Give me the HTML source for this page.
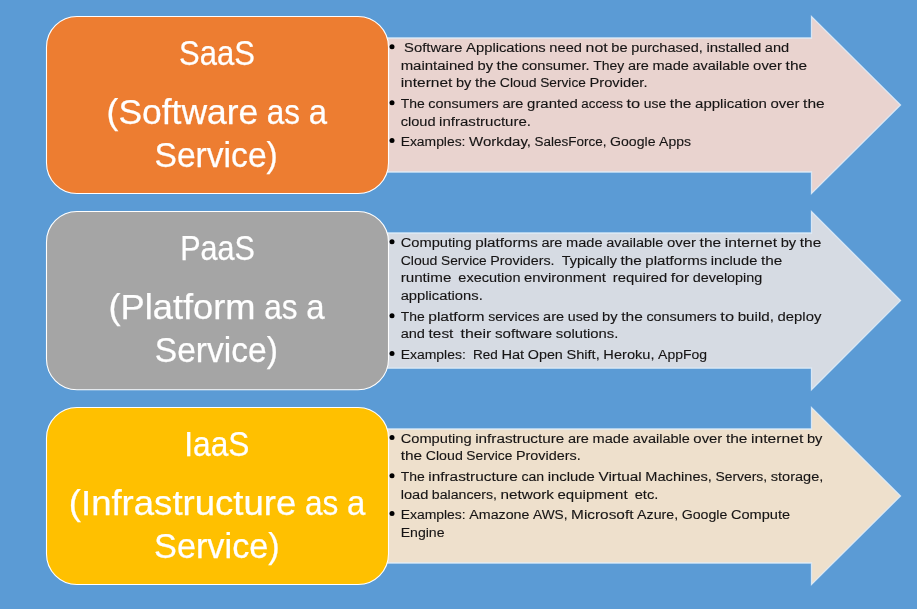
<!DOCTYPE html>
<html><head><meta charset="utf-8"><style>
html,body{margin:0;padding:0;width:917px;height:609px;overflow:hidden;background:#5B9BD5;}
svg{display:block;will-change:transform;}
text{font-family:"Liberation Sans",sans-serif;}
</style></head><body>
<svg width="917" height="609" viewBox="0 0 917 609">
<rect x="0" y="0" width="917" height="609" fill="#5B9BD5"/>
<path d="M300 38.0 H811.5 V16.5 L900.5 105.0 L811.5 193.5 V172.0 H300 Z" fill="#E9D3CF" stroke="#E2EEFA" stroke-opacity="0.85" stroke-width="1.3"/>
<rect x="46.5" y="16.5" width="342.0" height="177" rx="30.5" ry="30.5" fill="#ED7D31" stroke="#FFFFFF" stroke-width="1.1"/>
<path d="M300 233.0 H811.5 V211.5 L900.5 300.6 L811.5 389.7 V368.2 H300 Z" fill="#D6DBE3" stroke="#E2EEFA" stroke-opacity="0.85" stroke-width="1.3"/>
<rect x="46.5" y="211.5" width="342.0" height="178.2" rx="30.5" ry="30.5" fill="#A5A5A5" stroke="#FFFFFF" stroke-width="1.1"/>
<path d="M300 429.0 H811.5 V407.5 L900.5 496.0 L811.5 584.5 V563.0 H300 Z" fill="#EEE0CC" stroke="#E2EEFA" stroke-opacity="0.85" stroke-width="1.3"/>
<rect x="46.5" y="407.5" width="342.0" height="177" rx="30.5" ry="30.5" fill="#FFC000" stroke="#FFFFFF" stroke-width="1.1"/>
<g font-size="35" fill="#FFFFFF" stroke="#FFFFFF" stroke-width="0.25"><text x="179.10" y="64.60" textLength="75.80" lengthAdjust="spacingAndGlyphs">SaaS</text></g>
<g font-size="35" fill="#FFFFFF" stroke="#FFFFFF" stroke-width="0.25"><text x="106.60" y="123.50" textLength="151.61" lengthAdjust="spacingAndGlyphs">(Software</text><text x="266.85" y="123.50" textLength="33.23" lengthAdjust="spacingAndGlyphs">as</text><text x="308.71" y="123.50" textLength="18.29" lengthAdjust="spacingAndGlyphs">a</text></g>
<g font-size="35" fill="#FFFFFF" stroke="#FFFFFF" stroke-width="0.25"><text x="154.50" y="166.50" textLength="123.30" lengthAdjust="spacingAndGlyphs">Service)</text></g>
<g font-size="35" fill="#FFFFFF" stroke="#FFFFFF" stroke-width="0.25"><text x="180.20" y="260.20" textLength="74.70" lengthAdjust="spacingAndGlyphs">PaaS</text></g>
<g font-size="35" fill="#FFFFFF" stroke="#FFFFFF" stroke-width="0.25"><text x="108.40" y="319.10" textLength="147.14" lengthAdjust="spacingAndGlyphs">(Platform</text><text x="264.19" y="319.10" textLength="33.31" lengthAdjust="spacingAndGlyphs">as</text><text x="306.16" y="319.10" textLength="18.34" lengthAdjust="spacingAndGlyphs">a</text></g>
<g font-size="35" fill="#FFFFFF" stroke="#FFFFFF" stroke-width="0.25"><text x="154.80" y="362.20" textLength="123.10" lengthAdjust="spacingAndGlyphs">Service)</text></g>
<g font-size="35" fill="#FFFFFF" stroke="#FFFFFF" stroke-width="0.25"><text x="184.30" y="456.00" textLength="65.20" lengthAdjust="spacingAndGlyphs">IaaS</text></g>
<g font-size="35" fill="#FFFFFF" stroke="#FFFFFF" stroke-width="0.25"><text x="68.80" y="515.00" textLength="227.53" lengthAdjust="spacingAndGlyphs">(Infrastructure</text><text x="304.99" y="515.00" textLength="33.31" lengthAdjust="spacingAndGlyphs">as</text><text x="346.96" y="515.00" textLength="18.34" lengthAdjust="spacingAndGlyphs">a</text></g>
<g font-size="35" fill="#FFFFFF" stroke="#FFFFFF" stroke-width="0.25"><text x="154.00" y="557.80" textLength="125.80" lengthAdjust="spacingAndGlyphs">Service)</text></g>
<circle cx="392.0" cy="46.80" r="2.5" fill="#000"/>
<g font-size="13.7" fill="#161414" stroke="#161414" stroke-width="0.12"><text x="404.05" y="52.10" textLength="58.45" lengthAdjust="spacingAndGlyphs">Software</text><text x="466.10" y="52.10" textLength="79.67" lengthAdjust="spacingAndGlyphs">Applications</text><text x="549.38" y="52.10" textLength="32.61" lengthAdjust="spacingAndGlyphs">need</text><text x="585.59" y="52.10" textLength="22.12" lengthAdjust="spacingAndGlyphs">not</text><text x="611.32" y="52.10" textLength="16.31" lengthAdjust="spacingAndGlyphs">be</text><text x="631.23" y="52.10" textLength="71.57" lengthAdjust="spacingAndGlyphs">purchased,</text><text x="706.40" y="52.10" textLength="54.86" lengthAdjust="spacingAndGlyphs">installed</text><text x="764.87" y="52.10" textLength="24.38" lengthAdjust="spacingAndGlyphs">and</text></g>
<g font-size="13.7" fill="#161414" stroke="#161414" stroke-width="0.12"><text x="400.65" y="69.70" textLength="73.27" lengthAdjust="spacingAndGlyphs">maintained</text><text x="477.50" y="69.70" textLength="15.50" lengthAdjust="spacingAndGlyphs">by</text><text x="496.58" y="69.70" textLength="21.51" lengthAdjust="spacingAndGlyphs">the</text><text x="521.68" y="69.70" textLength="67.96" lengthAdjust="spacingAndGlyphs">consumer.</text><text x="593.22" y="69.70" textLength="31.10" lengthAdjust="spacingAndGlyphs">They</text><text x="627.90" y="69.70" textLength="21.00" lengthAdjust="spacingAndGlyphs">are</text><text x="652.48" y="69.70" textLength="36.45" lengthAdjust="spacingAndGlyphs">made</text><text x="692.51" y="69.70" textLength="57.04" lengthAdjust="spacingAndGlyphs">available</text><text x="753.14" y="69.70" textLength="28.92" lengthAdjust="spacingAndGlyphs">over</text><text x="785.64" y="69.70" textLength="21.51" lengthAdjust="spacingAndGlyphs">the</text></g>
<g font-size="13.7" fill="#161414" stroke="#161414" stroke-width="0.12"><text x="400.65" y="86.70" textLength="51.78" lengthAdjust="spacingAndGlyphs">internet</text><text x="455.98" y="86.70" textLength="15.37" lengthAdjust="spacingAndGlyphs">by</text><text x="474.91" y="86.70" textLength="21.35" lengthAdjust="spacingAndGlyphs">the</text><text x="499.81" y="86.70" textLength="36.80" lengthAdjust="spacingAndGlyphs">Cloud</text><text x="540.17" y="86.70" textLength="45.70" lengthAdjust="spacingAndGlyphs">Service</text><text x="589.42" y="86.70" textLength="58.13" lengthAdjust="spacingAndGlyphs">Provider.</text></g>
<circle cx="392.0" cy="102.70" r="2.5" fill="#000"/>
<g font-size="13.7" fill="#161414" stroke="#161414" stroke-width="0.12"><text x="400.65" y="108.00" textLength="24.05" lengthAdjust="spacingAndGlyphs">The</text><text x="428.30" y="108.00" textLength="70.51" lengthAdjust="spacingAndGlyphs">consumers</text><text x="502.40" y="108.00" textLength="21.10" lengthAdjust="spacingAndGlyphs">are</text><text x="527.10" y="108.00" textLength="50.66" lengthAdjust="spacingAndGlyphs">granted</text><text x="581.36" y="108.00" textLength="41.47" lengthAdjust="spacingAndGlyphs">access</text><text x="626.43" y="108.00" textLength="13.73" lengthAdjust="spacingAndGlyphs">to</text><text x="643.76" y="108.00" textLength="22.52" lengthAdjust="spacingAndGlyphs">use</text><text x="669.87" y="108.00" textLength="21.62" lengthAdjust="spacingAndGlyphs">the</text><text x="695.09" y="108.00" textLength="71.77" lengthAdjust="spacingAndGlyphs">application</text><text x="770.47" y="108.00" textLength="29.06" lengthAdjust="spacingAndGlyphs">over</text><text x="803.13" y="108.00" textLength="21.62" lengthAdjust="spacingAndGlyphs">the</text></g>
<g font-size="13.7" fill="#161414" stroke="#161414" stroke-width="0.12"><text x="400.65" y="125.80" textLength="34.93" lengthAdjust="spacingAndGlyphs">cloud</text><text x="439.12" y="125.80" textLength="91.93" lengthAdjust="spacingAndGlyphs">infrastructure.</text></g>
<circle cx="392.0" cy="140.40" r="2.5" fill="#000"/>
<g font-size="13.7" fill="#161414" stroke="#161414" stroke-width="0.12"><text x="400.65" y="145.70" textLength="64.82" lengthAdjust="spacingAndGlyphs">Examples:</text><text x="469.04" y="145.70" textLength="61.93" lengthAdjust="spacingAndGlyphs">Workday,</text><text x="534.53" y="145.70" textLength="71.95" lengthAdjust="spacingAndGlyphs">SalesForce,</text><text x="610.05" y="145.70" textLength="45.47" lengthAdjust="spacingAndGlyphs">Google</text><text x="659.08" y="145.70" textLength="31.87" lengthAdjust="spacingAndGlyphs">Apps</text></g>
<circle cx="392.0" cy="241.80" r="2.5" fill="#000"/>
<g font-size="13.7" fill="#161414" stroke="#161414" stroke-width="0.12"><text x="400.65" y="247.10" textLength="71.02" lengthAdjust="spacingAndGlyphs">Computing</text><text x="475.26" y="247.10" textLength="62.59" lengthAdjust="spacingAndGlyphs">platforms</text><text x="541.43" y="247.10" textLength="21.05" lengthAdjust="spacingAndGlyphs">are</text><text x="566.08" y="247.10" textLength="36.55" lengthAdjust="spacingAndGlyphs">made</text><text x="606.21" y="247.10" textLength="57.19" lengthAdjust="spacingAndGlyphs">available</text><text x="666.99" y="247.10" textLength="28.99" lengthAdjust="spacingAndGlyphs">over</text><text x="699.58" y="247.10" textLength="21.57" lengthAdjust="spacingAndGlyphs">the</text><text x="724.74" y="247.10" textLength="52.32" lengthAdjust="spacingAndGlyphs">internet</text><text x="780.65" y="247.10" textLength="15.54" lengthAdjust="spacingAndGlyphs">by</text><text x="799.78" y="247.10" textLength="21.57" lengthAdjust="spacingAndGlyphs">the</text></g>
<g font-size="13.7" fill="#161414" stroke="#161414" stroke-width="0.12"><text x="400.65" y="264.70" textLength="36.81" lengthAdjust="spacingAndGlyphs">Cloud</text><text x="441.02" y="264.70" textLength="45.72" lengthAdjust="spacingAndGlyphs">Service</text><text x="490.29" y="264.70" textLength="64.30" lengthAdjust="spacingAndGlyphs">Providers.</text><text x="561.71" y="264.70" textLength="55.17" lengthAdjust="spacingAndGlyphs">Typically</text><text x="620.43" y="264.70" textLength="21.35" lengthAdjust="spacingAndGlyphs">the</text><text x="645.34" y="264.70" textLength="61.96" lengthAdjust="spacingAndGlyphs">platforms</text><text x="710.86" y="264.70" textLength="46.48" lengthAdjust="spacingAndGlyphs">include</text><text x="760.90" y="264.70" textLength="21.35" lengthAdjust="spacingAndGlyphs">the</text></g>
<g font-size="13.7" fill="#161414" stroke="#161414" stroke-width="0.12"><text x="400.65" y="281.70" textLength="50.70" lengthAdjust="spacingAndGlyphs">runtime</text><text x="458.38" y="281.70" textLength="62.11" lengthAdjust="spacingAndGlyphs">execution</text><text x="524.01" y="281.70" textLength="81.84" lengthAdjust="spacingAndGlyphs">environment</text><text x="612.88" y="281.70" textLength="54.40" lengthAdjust="spacingAndGlyphs">required</text><text x="670.79" y="281.70" textLength="18.37" lengthAdjust="spacingAndGlyphs">for</text><text x="692.68" y="281.70" textLength="69.67" lengthAdjust="spacingAndGlyphs">developing</text></g>
<g font-size="13.7" fill="#161414" stroke="#161414" stroke-width="0.12"><text x="400.65" y="299.90" textLength="82.10" lengthAdjust="spacingAndGlyphs">applications.</text></g>
<circle cx="392.0" cy="315.80" r="2.5" fill="#000"/>
<g font-size="13.7" fill="#161414" stroke="#161414" stroke-width="0.12"><text x="400.65" y="321.10" textLength="23.99" lengthAdjust="spacingAndGlyphs">The</text><text x="428.23" y="321.10" textLength="56.37" lengthAdjust="spacingAndGlyphs">platform</text><text x="488.20" y="321.10" textLength="51.31" lengthAdjust="spacingAndGlyphs">services</text><text x="543.10" y="321.10" textLength="21.05" lengthAdjust="spacingAndGlyphs">are</text><text x="567.74" y="321.10" textLength="30.81" lengthAdjust="spacingAndGlyphs">used</text><text x="602.14" y="321.10" textLength="15.54" lengthAdjust="spacingAndGlyphs">by</text><text x="621.27" y="321.10" textLength="21.57" lengthAdjust="spacingAndGlyphs">the</text><text x="646.43" y="321.10" textLength="70.34" lengthAdjust="spacingAndGlyphs">consumers</text><text x="720.37" y="321.10" textLength="13.70" lengthAdjust="spacingAndGlyphs">to</text><text x="737.66" y="321.10" textLength="36.29" lengthAdjust="spacingAndGlyphs">build,</text><text x="777.54" y="321.10" textLength="43.81" lengthAdjust="spacingAndGlyphs">deploy</text></g>
<g font-size="13.7" fill="#161414" stroke="#161414" stroke-width="0.12"><text x="400.65" y="337.80" textLength="24.33" lengthAdjust="spacingAndGlyphs">and</text><text x="428.58" y="337.80" textLength="24.79" lengthAdjust="spacingAndGlyphs">test</text><text x="460.56" y="337.80" textLength="30.79" lengthAdjust="spacingAndGlyphs">their</text><text x="494.95" y="337.80" textLength="57.24" lengthAdjust="spacingAndGlyphs">software</text><text x="555.78" y="337.80" textLength="62.57" lengthAdjust="spacingAndGlyphs">solutions.</text></g>
<circle cx="392.0" cy="353.50" r="2.5" fill="#000"/>
<g font-size="13.7" fill="#161414" stroke="#161414" stroke-width="0.12"><text x="400.65" y="358.80" textLength="65.18" lengthAdjust="spacingAndGlyphs">Examples:</text><text x="473.00" y="358.80" textLength="24.83" lengthAdjust="spacingAndGlyphs">Red</text><text x="501.41" y="358.80" textLength="22.79" lengthAdjust="spacingAndGlyphs">Hat</text><text x="527.78" y="358.80" textLength="35.05" lengthAdjust="spacingAndGlyphs">Open</text><text x="566.42" y="358.80" textLength="33.36" lengthAdjust="spacingAndGlyphs">Shift,</text><text x="603.36" y="358.80" textLength="51.15" lengthAdjust="spacingAndGlyphs">Heroku,</text><text x="658.10" y="358.80" textLength="48.95" lengthAdjust="spacingAndGlyphs">AppFog</text></g>
<circle cx="392.0" cy="437.40" r="2.5" fill="#000"/>
<g font-size="13.7" fill="#161414" stroke="#161414" stroke-width="0.12"><text x="400.65" y="442.70" textLength="70.95" lengthAdjust="spacingAndGlyphs">Computing</text><text x="475.19" y="442.70" textLength="89.15" lengthAdjust="spacingAndGlyphs">infrastructure</text><text x="567.93" y="442.70" textLength="21.03" lengthAdjust="spacingAndGlyphs">are</text><text x="592.54" y="442.70" textLength="36.51" lengthAdjust="spacingAndGlyphs">made</text><text x="632.65" y="442.70" textLength="57.14" lengthAdjust="spacingAndGlyphs">available</text><text x="693.37" y="442.70" textLength="28.97" lengthAdjust="spacingAndGlyphs">over</text><text x="725.93" y="442.70" textLength="21.55" lengthAdjust="spacingAndGlyphs">the</text><text x="751.06" y="442.70" textLength="52.28" lengthAdjust="spacingAndGlyphs">internet</text><text x="806.93" y="442.70" textLength="15.52" lengthAdjust="spacingAndGlyphs">by</text></g>
<g font-size="13.7" fill="#161414" stroke="#161414" stroke-width="0.12"><text x="400.65" y="460.30" textLength="21.49" lengthAdjust="spacingAndGlyphs">the</text><text x="425.72" y="460.30" textLength="37.05" lengthAdjust="spacingAndGlyphs">Cloud</text><text x="466.35" y="460.30" textLength="46.01" lengthAdjust="spacingAndGlyphs">Service</text><text x="515.94" y="460.30" textLength="64.71" lengthAdjust="spacingAndGlyphs">Providers.</text></g>
<circle cx="392.0" cy="475.70" r="2.5" fill="#000"/>
<g font-size="13.7" fill="#161414" stroke="#161414" stroke-width="0.12"><text x="400.65" y="481.00" textLength="24.07" lengthAdjust="spacingAndGlyphs">The</text><text x="428.32" y="481.00" textLength="89.51" lengthAdjust="spacingAndGlyphs">infrastructure</text><text x="521.44" y="481.00" textLength="22.74" lengthAdjust="spacingAndGlyphs">can</text><text x="547.78" y="481.00" textLength="47.10" lengthAdjust="spacingAndGlyphs">include</text><text x="598.48" y="481.00" textLength="43.26" lengthAdjust="spacingAndGlyphs">Virtual</text><text x="645.34" y="481.00" textLength="66.54" lengthAdjust="spacingAndGlyphs">Machines,</text><text x="715.48" y="481.00" textLength="51.70" lengthAdjust="spacingAndGlyphs">Servers,</text><text x="770.78" y="481.00" textLength="52.57" lengthAdjust="spacingAndGlyphs">storage,</text></g>
<g font-size="13.7" fill="#161414" stroke="#161414" stroke-width="0.12"><text x="400.65" y="498.80" textLength="27.66" lengthAdjust="spacingAndGlyphs">load</text><text x="431.86" y="498.80" textLength="65.14" lengthAdjust="spacingAndGlyphs">balancers,</text><text x="500.54" y="498.80" textLength="53.44" lengthAdjust="spacingAndGlyphs">network</text><text x="557.54" y="498.80" textLength="70.04" lengthAdjust="spacingAndGlyphs">equipment</text><text x="634.67" y="498.80" textLength="23.68" lengthAdjust="spacingAndGlyphs">etc.</text></g>
<circle cx="392.0" cy="513.40" r="2.5" fill="#000"/>
<g font-size="13.7" fill="#161414" stroke="#161414" stroke-width="0.12"><text x="400.65" y="518.70" textLength="65.06" lengthAdjust="spacingAndGlyphs">Examples:</text><text x="469.29" y="518.70" textLength="60.17" lengthAdjust="spacingAndGlyphs">Amazone</text><text x="533.04" y="518.70" textLength="34.46" lengthAdjust="spacingAndGlyphs">AWS,</text><text x="571.08" y="518.70" textLength="62.39" lengthAdjust="spacingAndGlyphs">Microsoft</text><text x="637.05" y="518.70" textLength="41.07" lengthAdjust="spacingAndGlyphs">Azure,</text><text x="681.70" y="518.70" textLength="45.64" lengthAdjust="spacingAndGlyphs">Google</text><text x="730.91" y="518.70" textLength="59.24" lengthAdjust="spacingAndGlyphs">Compute</text></g>
<g font-size="13.7" fill="#161414" stroke="#161414" stroke-width="0.12"><text x="400.65" y="536.80" textLength="43.90" lengthAdjust="spacingAndGlyphs">Engine</text></g>
</svg>
</body></html>
